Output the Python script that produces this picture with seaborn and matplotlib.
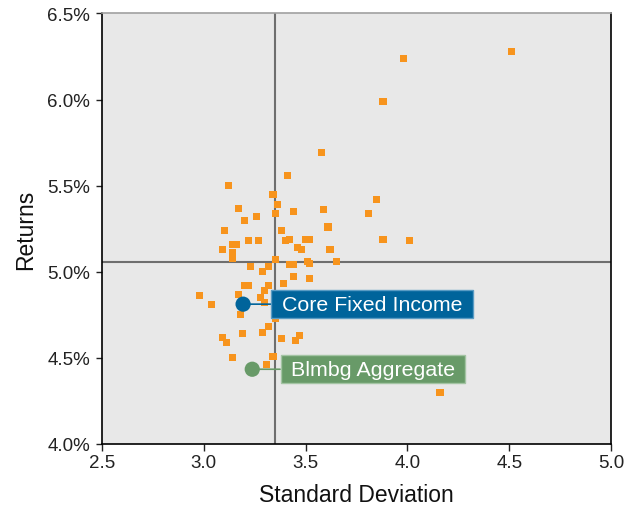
import matplotlib
matplotlib.use("Agg")
import matplotlib.pyplot as plt
import seaborn as sns
import pandas as pd
from matplotlib.ticker import FuncFormatter

# ---- data ----
std_dev = [4.51, 3.98, 3.88, 3.58, 3.41, 3.12, 3.34, 3.85, 3.36, 3.17,
           3.44, 3.59, 3.81, 3.26, 3.35, 3.20, 3.61, 3.10, 3.38, 3.42,
           3.40, 3.50, 3.52, 3.22, 3.27, 3.14, 3.16, 3.09, 3.46, 3.48,
           3.62, 3.14, 3.14, 3.35, 3.65, 3.51, 3.52, 3.23, 3.32, 3.42,
           3.44, 3.29, 3.44, 3.52, 3.39, 3.20, 3.22, 3.32, 3.30, 2.98,
           3.04, 3.17, 3.28, 3.30, 3.18, 3.35, 3.32, 3.29, 3.19, 3.09,
           3.11, 3.38, 3.47, 3.45, 3.14, 3.34, 3.31, 3.88, 4.01, 4.16]
returns = [6.28, 6.24, 5.99, 5.69, 5.56, 5.50, 5.45, 5.42, 5.39, 5.37,
           5.35, 5.36, 5.34, 5.32, 5.34, 5.30, 5.26, 5.24, 5.24, 5.19,
           5.18, 5.19, 5.19, 5.18, 5.18, 5.16, 5.16, 5.13, 5.14, 5.13,
           5.13, 5.11, 5.08, 5.07, 5.06, 5.06, 5.05, 5.03, 5.03, 5.04,
           5.04, 5.00, 4.97, 4.96, 4.93, 4.92, 4.92, 4.92, 4.89, 4.86,
           4.81, 4.87, 4.85, 4.82, 4.75, 4.73, 4.68, 4.65, 4.64, 4.62,
           4.59, 4.61, 4.63, 4.60, 4.50, 4.51, 4.46, 5.19, 5.18, 4.30]

highlight_names = ["Core Fixed Income", "Blmbg Aggregate"]
highlight_std = [3.193, 3.238]
highlight_ret = [4.812, 4.434]
highlight_colors = ["#00649b", "#689a68"]
highlight_edges = ["#5a9cc4", "#a3c4a3"]

median_std = 3.35
median_ret = 5.054

x_ticks = [2.5, 3.0, 3.5, 4.0, 4.5, 5.0]
y_ticks = [4.0, 4.5, 5.0, 5.5, 6.0, 6.5]

df = pd.DataFrame({"Standard Deviation": std_dev, "Returns": returns})
hl = pd.DataFrame({"std": highlight_std, "ret": highlight_ret, "name": highlight_names})

sns.set_style("white")
plt.rcParams["font.family"] = ["Liberation Sans", "DejaVu Sans"]

fig = plt.figure(figsize=(6.39, 5.06), dpi=100)
ax = fig.add_axes([0.1596, 0.1206, 0.9562 - 0.1596, 0.9714 - 0.1206])
ax.set_facecolor("#e8e8e8")

ax.axvline(median_std, color="#6e6e6e", lw=1.5, zorder=1)
ax.axhline(median_ret, color="#6e6e6e", lw=1.5, zorder=1)

sns.scatterplot(data=df, x="Standard Deviation", y="Returns", ax=ax,
                marker="s", s=26, color="#f7941d", edgecolor="none",
                linewidth=0, zorder=3, legend=False)

sns.scatterplot(data=hl, x="std", y="ret", hue="name",
                palette=dict(zip(highlight_names, highlight_colors)),
                ax=ax, s=120, edgecolor="none", linewidth=0, zorder=5,
                legend=False)

for name, xs, ys, c, ec in zip(highlight_names, highlight_std, highlight_ret,
                               highlight_colors, highlight_edges):
    ax.annotate(" " + name + " ", xy=(xs, ys), xytext=(23.5, 0),
                textcoords="offset points", ha="left", va="center",
                fontsize=15.4, color="white", zorder=6,
                bbox=dict(boxstyle="square,pad=0.2", fc=c, ec=ec, lw=1),
                arrowprops=dict(arrowstyle="-", color=c, lw=1.2,
                                shrinkA=0, shrinkB=0))

ax.set_xlim(x_ticks[0], x_ticks[-1])
ax.set_ylim(y_ticks[0], y_ticks[-1])
ax.set_xticks(x_ticks)
ax.set_yticks(y_ticks)
ax.xaxis.set_major_formatter(FuncFormatter(lambda v, p: f"{v:.1f}"))
ax.yaxis.set_major_formatter(FuncFormatter(lambda v, p: f"{v:.1f}%"))

ax.tick_params(axis="x", direction="out", length=5, width=1, colors="#222222",
               labelsize=13.5, pad=2, bottom=True)
ax.tick_params(axis="y", direction="out", length=4.5, width=1, colors="#222222",
               labelsize=13.5, pad=4, left=True)

ax.set_xlabel("Standard Deviation", fontsize=16.5, color="#111111", labelpad=9)
ax.set_ylabel("Returns", fontsize=16.5, color="#111111", labelpad=7)

for side in ["left", "bottom", "right"]:
    ax.spines[side].set_color("black")
    ax.spines[side].set_linewidth(1.2)
ax.spines["top"].set_color("#a0a0a0")
ax.spines["top"].set_linewidth(1.2)

fig.savefig("out.png", dpi=100)
